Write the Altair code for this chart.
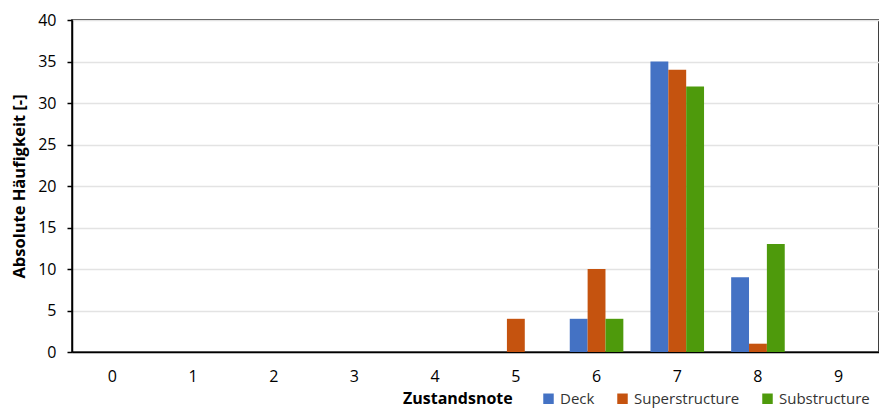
import altair as alt
import pandas as pd

cats = ["0", "1", "2", "3", "4", "5", "6", "7", "8", "9"]
series = ["Deck", "Superstructure", "Substructure"]
deck = [0, 0, 0, 0, 0, 0, 4, 35, 9, 0]
superstructure = [0, 0, 0, 0, 0, 4, 10, 34, 1, 0]
substructure = [0, 0, 0, 0, 0, 0, 4, 32, 13, 0]
colors = ["#4472C4", "#C5530F", "#4E9A0C"]
y_ticks = [0, 5, 10, 15, 20, 25, 30, 35, 40]

rows = []
for name, vals in zip(series, [deck, superstructure, substructure]):
    for c, v in zip(cats, vals):
        rows.append({"note": c, "series": name, "count": v})
df = pd.DataFrame(rows)

FONT = "Open Sans"

chart = alt.Chart(df).mark_bar().encode(
    x=alt.X("note:N", sort=cats,
            scale=alt.Scale(paddingInner=0.336, paddingOuter=0.168),
            axis=alt.Axis(title=None, labelAngle=0, ticks=False, labelPadding=16,
                          labelFontSize=16, labelColor="black",
                          domainColor="black", domainWidth=1.5)),
    xOffset=alt.XOffset("series:N", sort=series,
                        scale=alt.Scale(paddingInner=0, paddingOuter=0)),
    y=alt.Y("count:Q", scale=alt.Scale(domain=[0, 40], nice=False),
            axis=alt.Axis(values=y_ticks, title="Absolute Häufigkeit [-]",
                          titleFontWeight="bold", titleFontSize=16.5, titleColor="black",
                          labelFontSize=16, labelColor="black", tickSize=5,
                          tickColor="black", tickWidth=1.5, domainColor="black",
                          domainWidth=1.5, labelPadding=11, titlePadding=10,
                          gridColor="#e3e3e3", gridWidth=1.5)),
    color=alt.Color("series:N", sort=series,
                    scale=alt.Scale(domain=series, range=colors),
                    legend=alt.Legend(orient="none", legendX=331, legendY=371,
                                      direction="horizontal", title="Zustandsnote",
                                      titleOrient="left", titleFontWeight="bold",
                                      titleFontSize=16, titleColor="black",
                                      titlePadding=28, labelFontSize=15,
                                      labelColor="#333333", symbolType="square",
                                      symbolSize=110, symbolStrokeWidth=0,
                                      columnPadding=20, labelOffset=4)),
).properties(
    width=807, height=332,
    autosize=alt.AutoSizeParams(type="none"),
    padding={"left": 64, "top": 12, "right": 0, "bottom": 60},
).configure_view(
    stroke="black", strokeWidth=1.5
).configure_axis(
    labelFont=FONT, titleFont=FONT
).configure_legend(
    labelFont=FONT, titleFont=FONT
)

chart.save("out.html", embed_options={"renderer": "svg", "actions": False})
